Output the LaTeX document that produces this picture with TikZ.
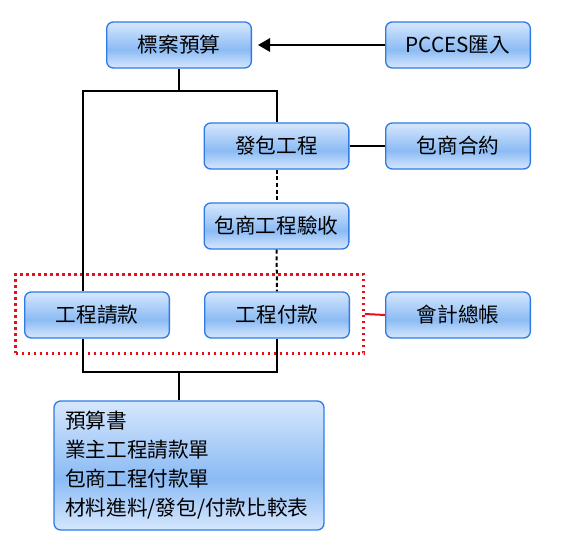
\documentclass[tikz,border=0pt]{standalone}
\usepackage{fontspec}
\setmainfont{Noto Sans CJK TC}
\usetikzlibrary{arrows.meta}
\definecolor{boxlight}{HTML}{D6E7FD}
\definecolor{boxmid}{HTML}{8BBBF4}
\definecolor{boxedge}{HTML}{2F7BE5}
\definecolor{grpred}{HTML}{E5101C}
\pgfdeclareverticalshading{boxshade}{100bp}{color(0bp)=(boxlight); color(25bp)=(boxlight); color(45bp)=(boxmid); color(75bp)=(boxlight); color(100bp)=(boxlight)}
\begin{document}
\begin{tikzpicture}[x=0.75pt,y=-0.75pt,
  flowbox/.style={draw=boxedge, line width=1pt, rounded corners=5pt, shading=boxshade,
    minimum width=108.5pt, minimum height=34.5pt, inner sep=0pt,
    font=\fontsize{15.5}{18}\selectfont},
  conn/.style={line width=1.5pt, black},
  dashconn/.style={conn, dash pattern=on 3pt off 2pt},
]
\useasboundingbox[fill=white] (0,0) rectangle (562,548);

\node[flowbox] (budget) at (179,45) {標案預算};
\node[flowbox] (pcces) at (458,45) {PCCES匯入};
\node[flowbox] (contract) at (276.5,146) {發包工程};
\node[flowbox] (sub) at (458,146) {包商合約};
\node[flowbox] (accept) at (276.5,226) {包商工程驗收};
\node[flowbox] (req) at (97,315) {工程請款};
\node[flowbox] (pay) at (277,315) {工程付款};
\node[flowbox] (ledger) at (458,315) {會計總帳};
\node[flowbox, minimum width=202.5pt, minimum height=96.75pt, text width=186pt,
  inner xsep=8.25pt, align=left, font=\fontsize{15.5}{21.75}\selectfont]
  (docs) at (189,465.5) {預算書\\業主工程請款單\\包商工程付款單\\材料進料/發包/付款比較表};

\node[draw=grpred, line width=2pt, dash pattern=on 2pt off 2.5pt,
  minimum width=261pt, minimum height=59.25pt, inner sep=0pt] (grp) at (189.5,314) {};

\coordinate (tl) at (83,91);
\coordinate (tr) at (276.5,91);
\coordinate (bl) at (83,372);
\coordinate (br) at (277,372);
\coordinate (bm) at (179,372);

\draw[conn, -{Triangle[length=9pt,width=10pt]}, shorten >=4.5pt] (pcces.west) -- (budget.east);
\draw[conn] (budget.south) -- (budget.south |- tl);
\draw[conn] (req.north -| tl) -- (tl) -- (tr) -- (contract.north);
\draw[conn] (contract.east) -- (sub.west);
\draw[dashconn] (contract.south) -- (accept.north);
\draw[dashconn] (accept.south) -- (pay.north);
\draw[conn] (req.south -| bl) -- (bl) -- (br) -- (pay.south);
\draw[conn] (bm) -- (bm |- docs.north);
\draw[grpred, line width=1.5pt] (grp.east) -- (ledger.west);
\end{tikzpicture}
\end{document}
